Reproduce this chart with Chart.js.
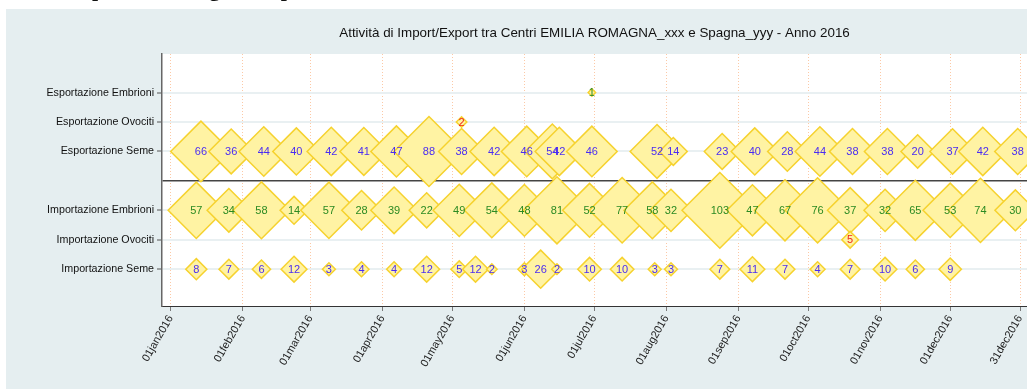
<!DOCTYPE html>
<html>
<head>
<meta charset="utf-8">
<script src="https://cdn.jsdelivr.net/npm/chart.js@4.4.0/dist/chart.umd.min.js"></script>
<style>
  html, body { margin: 0; padding: 0; background: #ffffff; width: 1027px; height: 389px; overflow: hidden; }
  #wrap { position: relative; width: 1027px; height: 389px; }
  #chart { position: absolute; left: 0; top: 0; }
  #heading { position: absolute; left: 0; top: 0; width: 1027px; height: 9px; overflow: hidden; z-index: 2; }
  #heading span { position: absolute; left: 65px; top: -22px; font: bold 22px/22px "Liberation Serif", serif; color: #111; white-space: nowrap; }
</style>
</head>
<body>
<div id="wrap">
  <canvas id="chart" width="1027" height="389"></canvas>
  <div id="heading"><span>Importazioni e grafico per centro</span></div>
</div>
<script>
// ---- data -------------------------------------------------------------
const chartTitle = 'Attività di Import/Export tra Centri EMILIA ROMAGNA_xxx e Spagna_yyy - Anno 2016';

// rows, bottom to top
const categories = [
  'Importazione Seme',
  'Importazione Ovociti',
  'Importazione Embrioni',
  'Esportazione Seme',
  'Esportazione Ovociti',
  'Esportazione Embrioni'
];

const impSemeDates = ['2016-01-12','2016-01-26','2016-02-09','2016-02-23','2016-03-09','2016-03-23','2016-04-06','2016-04-20','2016-05-04','2016-05-11','2016-05-18','2016-06-01','2016-06-08','2016-06-15','2016-06-29','2016-07-13','2016-07-27','2016-08-03','2016-08-24','2016-09-07','2016-09-21','2016-10-05','2016-10-19','2016-11-03','2016-11-16','2016-12-01'];
const impSemeValues = [8, 7, 6, 12, 3, 4, 4, 12, 5, 12, 2, 3, 26, 2, 10, 10, 3, 3, 7, 11, 7, 4, 7, 10, 6, 9];

const impOvocitiDates = ['2016-10-19'];
const impOvocitiValues = [5];

const impEmbrioniDates = ['2016-01-12','2016-01-26','2016-02-09','2016-02-23','2016-03-09','2016-03-23','2016-04-06','2016-04-20','2016-05-04','2016-05-18','2016-06-01','2016-06-15','2016-06-29','2016-07-13','2016-07-26','2016-08-03','2016-08-24','2016-09-07','2016-09-21','2016-10-05','2016-10-19','2016-11-03','2016-11-16','2016-12-01','2016-12-14','2016-12-29'];
const impEmbrioniValues = [57, 34, 58, 14, 57, 28, 39, 22, 49, 54, 48, 81, 52, 77, 58, 32, 103, 47, 67, 76, 37, 32, 65, 53, 74, 30];

const espSemeDates = ['2016-01-14','2016-01-27','2016-02-10','2016-02-24','2016-03-10','2016-03-24','2016-04-07','2016-04-21','2016-05-05','2016-05-19','2016-06-02','2016-06-13','2016-06-16','2016-06-30','2016-07-28','2016-08-04','2016-08-25','2016-09-08','2016-09-22','2016-10-06','2016-10-20','2016-11-04','2016-11-17','2016-12-02','2016-12-15','2016-12-30'];
const espSemeValues = [66, 36, 44, 40, 42, 41, 47, 88, 38, 42, 46, 54, 42, 46, 52, 14, 23, 40, 28, 44, 38, 38, 20, 37, 42, 38];

const espOvocitiDates = ['2016-05-05'];
const espOvocitiValues = [2];

const espEmbrioniDates = ['2016-06-30'];
const espEmbrioniValues = [1];

const tickDates = ['2016-01-01','2016-02-01','2016-03-01','2016-04-01','2016-05-01','2016-06-01','2016-07-01','2016-08-01','2016-09-01','2016-10-01','2016-11-01','2016-12-01','2016-12-31'];
const tickLabels = ['01jan2016','01feb2016','01mar2016','01apr2016','01may2016','01jun2016','01jul2016','01aug2016','01sep2016','01oct2016','01nov2016','01dec2016','31dec2016'];

// ---- helpers ----------------------------------------------------------
const YEAR_START = Date.UTC(2016, 0, 1);
function dayOfYear(s) {
  const [y, m, d] = s.split('-').map(Number);
  return (Date.UTC(y, m - 1, d) - YEAR_START) / 86400000;
}
// imports sit on levels 1-3, exports on 5-7, the divider on 4
function rowLevel(i) { return i < 3 ? i + 1 : i + 2; }
const DIVIDER_LEVEL = 4;

const LABEL_COLORS = { seme: '#4a2cf2', ovociti: '#f2231a', embrioni: '#2b8a22' };

const rows = [
  { dates: impSemeDates,     values: impSemeValues,     kind: 'seme' },
  { dates: impOvocitiDates,  values: impOvocitiValues,  kind: 'ovociti' },
  { dates: impEmbrioniDates, values: impEmbrioniValues, kind: 'embrioni' },
  { dates: espSemeDates,     values: espSemeValues,     kind: 'seme' },
  { dates: espOvocitiDates,  values: espOvocitiValues,  kind: 'ovociti' },
  { dates: espEmbrioniDates, values: espEmbrioniValues, kind: 'embrioni' }
];

const datasets = rows.map((r, i) => ({
  label: categories[i],
  data: r.dates.map((d, j) => ({ x: dayOfYear(d), y: rowLevel(i), v: r.values[j] })),
  valueColor: LABEL_COLORS[r.kind],
  showLine: false,
  pointStyle: 'rectRot',
  // marker area proportional to the count
  pointRadius: ctx => 3.73 * Math.sqrt(ctx.raw.v),
  pointBackgroundColor: '#fff3a3',
  pointBorderColor: '#f6d22e',
  pointBorderWidth: 1.5,
  clip: false
}));

const levelToName = {};
categories.forEach((c, i) => { levelToName[rowLevel(i)] = c; });
const tickDays = tickDates.map(dayOfYear);
const dayToLabel = {};
tickDays.forEach((d, i) => { dayToLabel[d] = tickLabels[i]; });

// ---- plugins ----------------------------------------------------------
const backdrop = {
  id: 'backdrop',
  beforeDraw(chart) {
    const { ctx, chartArea: a, width, height } = chart;
    ctx.save();
    ctx.fillStyle = '#ffffff';
    ctx.fillRect(0, 0, width, height);
    ctx.fillStyle = '#e5eef0';
    ctx.fillRect(6, 9, width - 6, height - 9);
    ctx.fillStyle = '#ffffff';
    ctx.fillRect(a.left, a.top, a.right - a.left, a.bottom - a.top);
    ctx.restore();
  }
};

const plotTitle = {
  id: 'plotTitle',
  afterDraw(chart) {
    const { ctx, chartArea: a } = chart;
    ctx.save();
    ctx.font = '13.4px "Liberation Sans", Arial, sans-serif';
    ctx.fillStyle = '#111111';
    ctx.textAlign = 'center';
    ctx.textBaseline = 'middle';
    ctx.fillText(chartTitle, (a.left + a.right) / 2, 33);
    ctx.restore();
  }
};

const valueLabels = {
  id: 'valueLabels',
  afterDatasetsDraw(chart) {
    const ctx = chart.ctx;
    ctx.save();
    ctx.font = '11px "Liberation Sans", Arial, sans-serif';
    ctx.textAlign = 'center';
    ctx.textBaseline = 'middle';
    chart.data.datasets.forEach((ds, i) => {
      const meta = chart.getDatasetMeta(i);
      ctx.fillStyle = ds.valueColor;
      meta.data.forEach((pt, j) => {
        ctx.fillText(String(ds.data[j].v), pt.x, pt.y + 0.5);
      });
    });
    ctx.restore();
  }
};

// ---- chart ------------------------------------------------------------
Chart.defaults.font.family = '"Liberation Sans", Arial, sans-serif';

new Chart(document.getElementById('chart'), {
  type: 'scatter',
  data: { datasets },
  plugins: [backdrop, valueLabels, plotTitle],
  options: {
    responsive: false,
    animation: false,
    devicePixelRatio: 1,
    events: [],
    layout: { autoPadding: false, padding: { top: 54, left: 0, right: 0, bottom: 0 } },
    plugins: { legend: { display: false }, tooltip: { enabled: false }, title: { display: false } },
    scales: {
      x: {
        type: 'linear',
        min: -3.74,
        max: 368,
        afterBuildTicks(scale) { scale.ticks = tickDays.map(v => ({ value: v })); },
        afterFit(scale) { scale.height = 83; scale.paddingLeft = 0; scale.paddingRight = 0; },
        ticks: {
          autoSkip: false,
          minRotation: 60,
          maxRotation: 60,
          padding: 2,
          color: '#222222',
          font: { size: 11 },
          callback: v => dayToLabel[v] || ''
        },
        grid: {
          color: '#fcc9a6',
          lineWidth: 1,
          drawTicks: true,
          tickLength: 5,
          tickColor: '#7a7a7a',
          tickWidth: 1
        },
        border: { display: true, color: '#333333', width: 1, dash: [1, 2] }
      },
      y: {
        type: 'linear',
        min: -0.25,
        max: 8.31,
        afterBuildTicks(scale) { scale.ticks = [1, 2, 3, 4, 5, 6, 7].map(v => ({ value: v })); },
        afterFit(scale) { scale.width = 162; },
        ticks: {
          padding: 3,
          color: '#111111',
          font: { size: 10.7 },
          callback: v => levelToName[v] || ''
        },
        grid: {
          color: c => (c.tick && c.tick.value === DIVIDER_LEVEL) ? '#444444' : '#e9f0f2',
          lineWidth: c => (c.tick && c.tick.value === DIVIDER_LEVEL) ? 1.5 : 2,
          tickColor: c => (c.tick && c.tick.value === DIVIDER_LEVEL) ? 'rgba(0,0,0,0)' : '#555555',
          tickWidth: 1,
          tickLength: 5
        },
        border: { display: true, color: '#666666', width: 1.5 }
      }
    }
  }
});
</script>
</body>
</html>
